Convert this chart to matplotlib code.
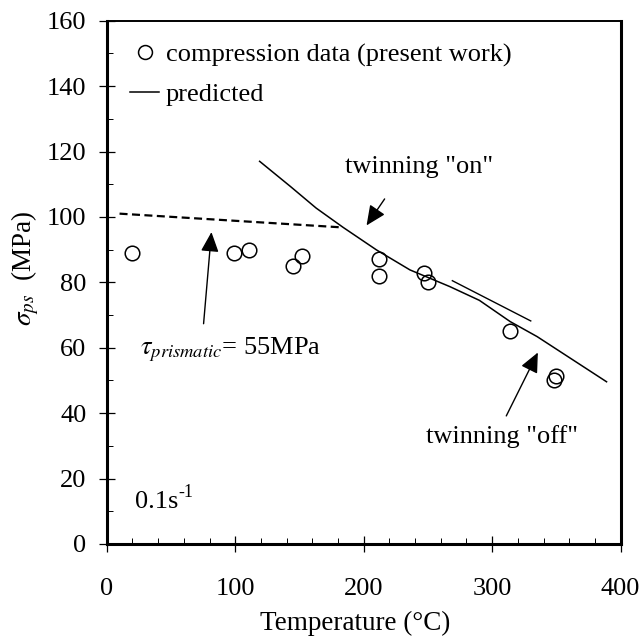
import numpy as np
import matplotlib
matplotlib.use("Agg")
import matplotlib.pyplot as plt
from matplotlib.lines import Line2D

plt.rcParams['font.family'] = ['Liberation Serif', 'DejaVu Serif']
plt.rcParams['mathtext.fontset'] = 'stix'
plt.rcParams['font.size'] = 19

# compression tests
temp_data = [20, 99, 111, 145, 152, 212, 212, 247, 250, 314, 348, 350]
stress_data = [89, 89, 90, 85, 88, 87, 82, 83, 80, 65, 50, 51.5]

# predicted curve (twinning)
temp_pred = [119, 143, 163, 184, 210, 236, 267, 290, 314, 335, 362, 389]
stress_pred = [117, 109.3, 102.7, 96.8, 89.9, 83.8, 78.7, 74.5, 68, 63.4, 56.5, 49.6]

# prismatic slip limit
temp_prism = [10, 183]
stress_prism = [101, 96.8]

# tangent at twinning "off"
temp_tan = [269, 330]
stress_tan = [80.5, 68.2]

fig = plt.figure(figsize=(6.44, 6.40), dpi=100)
ax = fig.add_axes([0.1657, 0.15, 0.7981, 0.8177])

ax.plot(temp_pred, stress_pred, color='black', lw=1.1)
ax.plot(temp_prism, stress_prism, color='black', lw=1.6, ls=(0, (3.6, 2.0)))
ax.plot(temp_tan, stress_tan, color='black', lw=1.0)
ax.plot(temp_data, stress_data, 'o', mfc='none', mec='black', ms=10.5, mew=1.1)

ax.set_xlim(0, 400)
ax.set_ylim(0, 160)
ax.set_xticks([0, 100, 200, 300, 400])
ax.set_yticks(np.arange(0, 161, 20))
ax.set_xticks(np.arange(0, 401, 20), minor=True)
ax.set_yticks(np.arange(0, 161, 10), minor=True)
ax.tick_params(which='major', direction='inout', length=11, width=0.9)
ax.tick_params(which='minor', direction='in', length=4, width=0.7)
ax.tick_params(axis='x', which='major', pad=19)
ax.tick_params(axis='y', which='major', pad=9)
for side in ['left', 'bottom', 'right']:
    ax.spines[side].set_linewidth(2.2)
ax.spines['top'].set_linewidth(1.4)

ax.set_xlabel('Temperature (°C)', fontsize=19.5)
ax.set_ylabel(r'$\sigma_{ps}$  (MPa)', fontsize=19.5)
ax.xaxis.set_label_coords(0.484, -0.151)
ax.yaxis.set_label_coords(-0.159, 0.527)
ax.xaxis.label.set_va('center')
ax.yaxis.label.set_va('center')

# annotations
arrow = dict(arrowstyle='-|>,head_length=0.55,head_width=0.25',
             color='black', lw=1.0, mutation_scale=22)
ax.annotate('', xy=(201, 96.7), xytext=(217.5, 106.2), arrowprops=arrow)
ax.text(243, 115.4, 'twinning "on"', ha='center', va='center')
ax.annotate('', xy=(81.7, 96.2), xytext=(75.2, 66.5), arrowprops=arrow)
ax.text(26, 59.5, r'$\tau_{prismatic}$= 55MPa', ha='left', va='center')
ax.annotate('', xy=(336.5, 59.3), xytext=(310, 38.4), arrowprops=arrow)
ax.text(308, 33, 'twinning "off"', ha='center', va='center')
rate = ax.text(22, 12.8, '0.1s', ha='left', va='center')
ax.annotate('-1', xy=(1, 1), xycoords=rate, xytext=(0, -7),
            textcoords='offset points', fontsize=13, ha='left', va='bottom')

handles = [
    Line2D([], [], ls='none', marker='o', mfc='none', mec='black', ms=10, mew=1.1),
    Line2D([], [], color='black', lw=1.1),
]
ax.legend(handles, ['compression data (present work)', 'predicted'],
          loc='upper left', bbox_to_anchor=(0.046, 0.958), frameon=False,
          borderpad=0, borderaxespad=0, handlelength=1.1, handletextpad=0.25,
          labelspacing=0.6, fontsize=19)

fig.savefig('out.png', dpi=100)
